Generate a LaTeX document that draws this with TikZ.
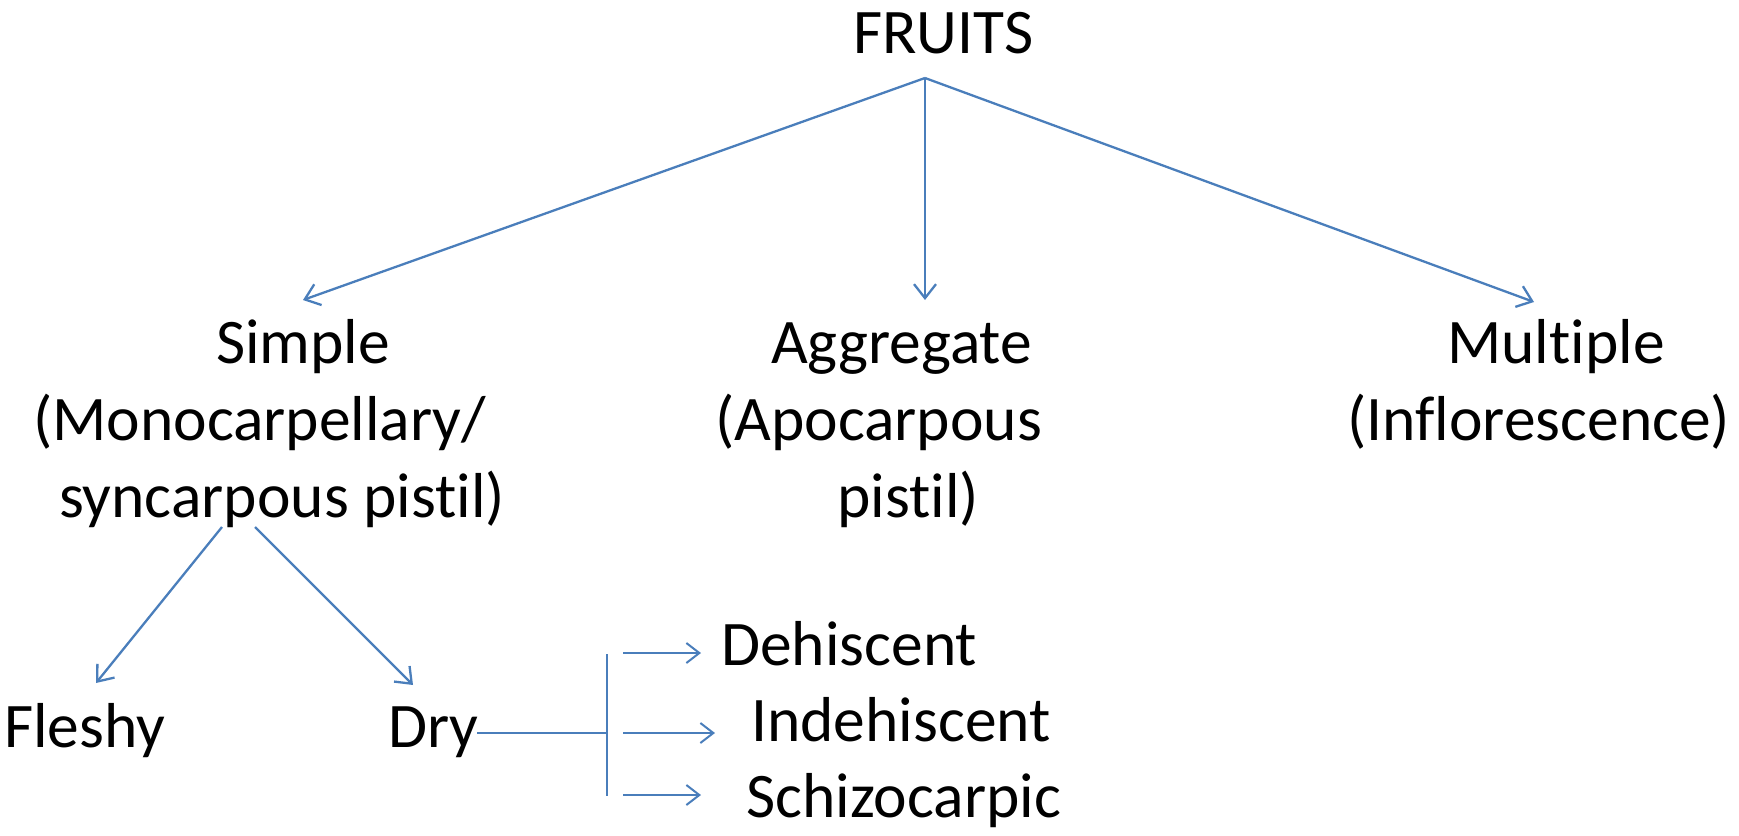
\documentclass[tikz,border=0pt]{standalone}
\usepackage{fontspec}
\setmainfont{Carlito}[Ligatures={NoCommon}]
\usetikzlibrary{arrows.meta}
\definecolor{lineblue}{HTML}{4A7EBB}
\tikzset{
  lbl/.style={anchor=base west, inner sep=0pt, font=\fontsize{63.5}{77}\selectfont, text=black},
  conn/.style={draw=lineblue, line width=2.3pt, -{Straight Barb[length=14pt,width=22pt,line width=2.3pt]}},
  connthin/.style={draw=lineblue, line width=2pt, -{Straight Barb[length=13pt,width=20pt,line width=2pt]}},
  plain/.style={draw=lineblue, line width=2pt}
}
\begin{document}
\begin{tikzpicture}[x=1pt,y=-1pt]
\useasboundingbox (0,0) rectangle (1739,835);
% texts
\node[lbl] (fruits) at (853,53) {FRUITS};
\node[lbl] (simple1) at (216,363) {Simple};
\node[lbl] (simple2) at (33,440) {(Monocarpellary/};
\node[lbl] (simple3) at (59,517) {syncarpous pistil)};
\node[lbl] (aggr1) at (771,363) {Aggregate};
\node[lbl] (aggr2) at (715,440) {(Apocarpous};
\node[lbl] (aggr3) at (837,517) {pistil)};
\node[lbl] (mult1) at (1447,363) {Multiple};
\node[lbl] (mult2) at (1347,440) {(Inflorescence)};
\node[lbl] (fleshy) at (4,747) {Fleshy};
\node[lbl] (dry) at (388,747) {Dry};
\node[lbl] (dehis) at (721,665) {Dehiscent};
\node[lbl] (indehis) at (751,741) {Indehiscent};
\node[lbl] (schizo) at (746,817) {Schizocarpic};
% connector points
\coordinate (top) at (925,78);
\coordinate (tsimple) at (303,300);
\coordinate (taggr) at (925,300);
\coordinate (tmult) at (1534,302);
\coordinate (sfrom1) at (222,527);
\coordinate (sfrom2) at (255,527);
\coordinate (tfleshy) at (96,683);
\coordinate (tdry) at (413,685);
\coordinate (dryend) at (477,733);
\coordinate (brmid) at (607,733);
\coordinate (brtop) at (607,654);
\coordinate (brbot) at (607,796);
\coordinate (a1s) at (623,653);
\coordinate (a1e) at (701,653);
\coordinate (a2s) at (623,733);
\coordinate (a2e) at (715,733);
\coordinate (a3s) at (623,795);
\coordinate (a3e) at (701,795);
% connectors
\draw[conn] (top) -- (tsimple);
\draw[conn] (top) -- (taggr);
\draw[conn] (top) -- (tmult);
\draw[conn] (sfrom1) -- (tfleshy);
\draw[conn] (sfrom2) -- (tdry);
\draw[plain] (dryend) -- (brmid);
\draw[plain] (brtop) -- (brbot);
\draw[connthin] (a1s) -- (a1e);
\draw[connthin] (a2s) -- (a2e);
\draw[connthin] (a3s) -- (a3e);
\end{tikzpicture}
\end{document}
